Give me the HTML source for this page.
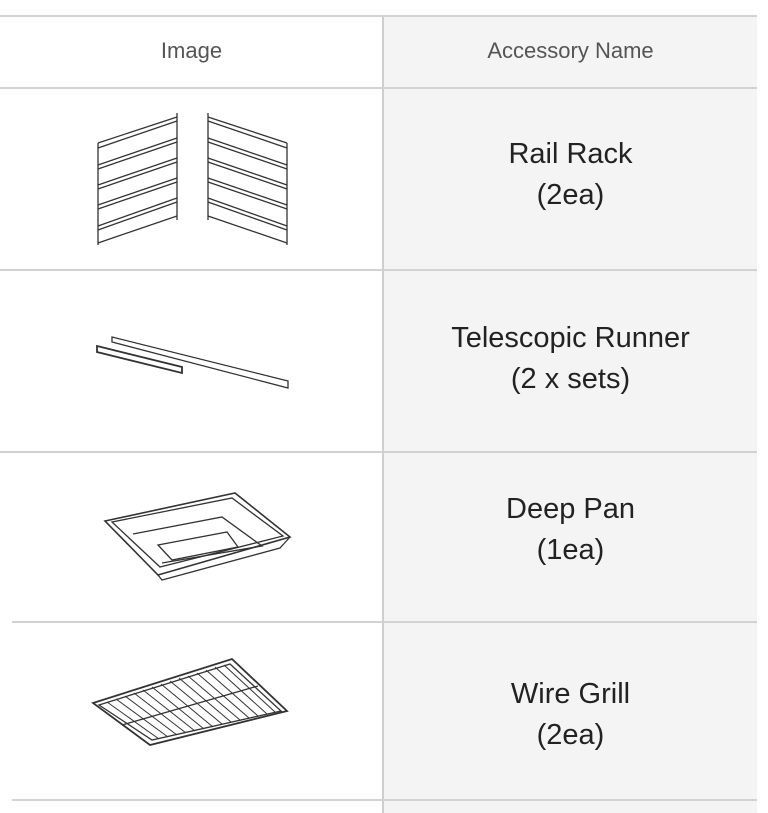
<!DOCTYPE html>
<html><head><meta charset="utf-8"><style>
html,body{margin:0;padding:0;background:#fff;}
body{width:768px;height:813px;position:relative;overflow:hidden;font-family:"Liberation Sans",sans-serif;}
.gray{position:absolute;left:384px;top:16px;width:373px;height:797px;background:#f4f4f4;}
.h{position:absolute;height:2px;background:#d2d2d2;}
.v{position:absolute;left:382px;top:16px;width:2px;height:797px;background:#cfcfcf;}
.t{position:absolute;width:373px;left:384px;text-align:center;color:#222;font-size:29px;line-height:41px;}
.hd{position:absolute;top:38px;font-size:22px;color:#555;text-align:center;}
svg{position:absolute;left:0;top:0;}
</style></head><body>
<div class="gray"></div>
<div class="h" style="left:0;top:15px;width:757px"></div>
<div class="h" style="left:0;top:87px;width:757px"></div>
<div class="h" style="left:0;top:269px;width:757px"></div>
<div class="h" style="left:0;top:451px;width:757px"></div>
<div class="h" style="left:12px;top:621px;width:745px"></div>
<div class="h" style="left:12px;top:799px;width:745px"></div>
<div class="v"></div>
<div class="hd" style="left:0;width:383px">Image</div>
<div class="hd" style="left:384px;width:373px">Accessory Name</div>
<div class="t" style="top:134px">Rail Rack<br>(2ea)</div>
<div class="t" style="top:318px">Telescopic Runner<br>(2 x sets)</div>
<div class="t" style="top:489px">Deep Pan<br>(1ea)</div>
<div class="t" style="top:674px">Wire Grill<br>(2ea)</div>
<svg width="768" height="813" fill="none" stroke="#333" stroke-width="1.3">
<g>
<line x1="98" y1="143" x2="98" y2="245"/>
<line x1="177" y1="113" x2="177" y2="220"/>
<path d="M98 143 L177 117"/><path d="M98 148 L177 121"/>
<path d="M98 165 L177 138"/><path d="M98 169 L177 142"/>
<path d="M98 185 L177 158"/><path d="M98 189 L177 162"/>
<path d="M98 205 L177 178"/><path d="M98 209 L177 182"/>
<path d="M98 226 L177 198"/><path d="M98 230 L177 202"/>
<path d="M98 243 L177 216"/>
</g>
<g transform="translate(385,0) scale(-1,1)">
<line x1="98" y1="143" x2="98" y2="245"/>
<line x1="177" y1="113" x2="177" y2="220"/>
<path d="M98 143 L177 117"/><path d="M98 148 L177 121"/>
<path d="M98 165 L177 138"/><path d="M98 169 L177 142"/>
<path d="M98 185 L177 158"/><path d="M98 189 L177 162"/>
<path d="M98 205 L177 178"/><path d="M98 209 L177 182"/>
<path d="M98 226 L177 198"/><path d="M98 230 L177 202"/>
<path d="M98 243 L177 216"/>
</g>
<path d="M112 337 L288 381 L288 388 L112 342 Z"/>
<path d="M97 346 L182 367 L182 373 L97 352 Z" stroke-width="1.8"/>
<path d="M105 521 L235 493 L290 537 L158 575 Z" stroke-width="1.6"/>
<path d="M112 522 L232 498 L283 536 L160 567 Z"/>
<path d="M133 534 L222 517 L262 546 L162 563"/>
<path d="M158 545 L227 532 L238 547 L172 560 Z"/>
<path d="M158 575 L162 580 L280 548 L290 537"/>
<path d="M93 703 L232 659 L287 711 L150 745 Z" stroke-width="1.8"/>
<path d="M99 705 L230 664 L281 711 L152 740 Z"/>
<path d="M122 725 L258 686"/>
<g stroke-width="1">
<path d="M107 702 L159 739"/><path d="M116 699 L168 737"/><path d="M125 696 L177 735"/><path d="M134 693 L186 733"/><path d="M143 690 L195 731"/><path d="M152 687 L204 729"/><path d="M161 684 L213 727"/><path d="M170 681 L222 724"/><path d="M179 678 L231 722"/><path d="M188 676 L240 720"/><path d="M197 673 L249 718"/><path d="M206 670 L258 716"/><path d="M215 667 L267 714"/><path d="M224 665 L275 712"/>
</g>
</svg>
</body></html>
